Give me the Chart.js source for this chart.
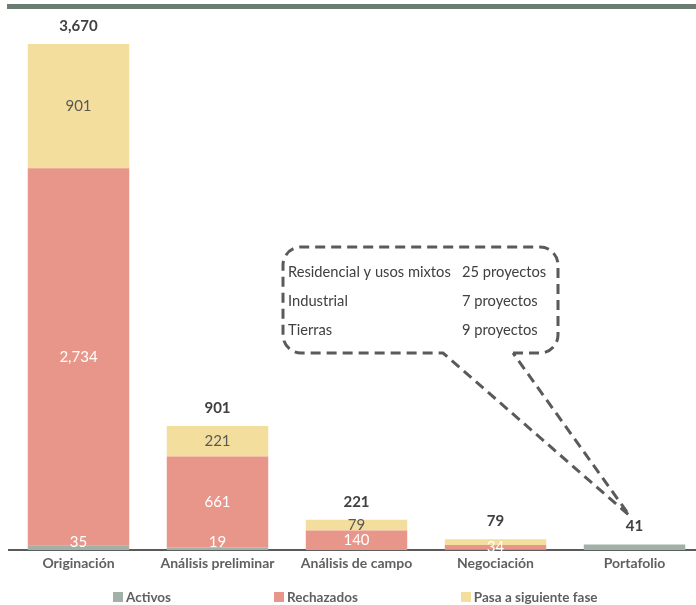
<!DOCTYPE html>
<html>
<head>
<meta charset="utf-8">
<script src="https://cdn.jsdelivr.net/npm/chart.js@4"></script>
<style>
  html, body { margin: 0; padding: 0; background: #fff; overflow: hidden; }
  #wrap { position: relative; width: 704px; height: 605px; }
  #rule { position: absolute; left: 7px; top: 4px; width: 697px; height: 5px; background: #6b7c72; }
  #legend { position: absolute; top: 589px; left: 113px; display: flex; gap: 103px;
            font: bold 13.5px Lato, sans-serif; color: #5f5f5f; }
  #legend .item { display: flex; align-items: center; white-space: nowrap; }
  #legend .box { width: 10px; height: 10px; margin-right: 3px; }
</style>
</head>
<body>
<div id="wrap">
  <canvas id="c" width="704" height="605"></canvas>
  <div id="rule"></div>
  <div id="legend"></div>
</div>
<script>
// Embudo de proyectos por fase
const categories = ['Originación', 'Análisis preliminar', 'Análisis de campo', 'Negociación', 'Portafolio'];
const activos = [35, 19, 2, 4, 41];
const rechazados = [2734, 661, 140, 34, 0];
const pasaSiguiente = [901, 221, 79, 41, 0];

// Which segment values get printed inside the bar
const verActivos = [true, true, false, false, false];
const verRechazados = [true, true, true, true, false];
const verPasa = [true, true, true, false, false];

// Portfolio breakdown shown in the callout
const tiposPortafolio = ['Residencial y usos mixtos', 'Industrial', 'Tierras'];
const proyectosPortafolio = ['25 proyectos', '7 proyectos', '9 proyectos'];

const FONT = 'Lato, sans-serif';
const fmt = v => v.toLocaleString('en-US');

const colores = { activos: '#a1b1a7', rechazados: '#e9968a', pasa: '#f4de9e' };

const segmentLabels = {
  id: 'segmentLabels',
  afterDatasetsDraw(chart) {
    const ctx = chart.ctx;
    const flags = [verActivos, verRechazados, verPasa];
    const base = chart.scales.y.getPixelForValue(0);
    ctx.save();
    ctx.textAlign = 'center';
    ctx.textBaseline = 'middle';
    chart.data.datasets.forEach((ds, di) => {
      const meta = chart.getDatasetMeta(di);
      meta.data.forEach((bar, i) => {
        if (!flags[di][i]) return;
        let y = (bar.y + bar.base) / 2;
        if (di === 0) y = Math.min(y, base - 8);
        ctx.font = '15px ' + FONT;
        ctx.fillStyle = di === 2 ? '#595959' : '#ffffff';
        ctx.fillText(fmt(ds.data[i]), bar.x, y);
      });
    });
    // totals above each stack
    const first = chart.getDatasetMeta(0).data;
    categories.forEach((c, i) => {
      const total = chart.data.datasets.reduce((s, ds) => s + ds.data[i], 0);
      const yTop = chart.scales.y.getPixelForValue(total);
      ctx.font = 'bold 15px ' + FONT;
      ctx.fillStyle = '#404040';
      ctx.fillText(fmt(total), first[i].x, yTop - 18);
    });
    ctx.restore();
  }
};

const callout = {
  id: 'callout',
  afterDraw(chart) {
    const ctx = chart.ctx;
    const i = categories.length - 1;
    const total = chart.data.datasets.reduce((s, ds) => s + ds.data[i], 0);
    const tipX = chart.getDatasetMeta(0).data[i].x - 5;
    const tipY = chart.scales.y.getPixelForValue(total) - 29;
    const L = 283, R = 558, T = 247, B = 353, r = 18;
    const p1 = 443, p2 = 513;
    ctx.save();
    ctx.strokeStyle = '#5a5a5a';
    ctx.lineWidth = 3;
    ctx.setLineDash([10, 6]);
    ctx.beginPath();
    ctx.moveTo(p2, B);
    ctx.lineTo(R - r, B);
    ctx.arcTo(R, B, R, B - r, r);
    ctx.lineTo(R, T + r);
    ctx.arcTo(R, T, R - r, T, r);
    ctx.lineTo(L + r, T);
    ctx.arcTo(L, T, L, T + r, r);
    ctx.lineTo(L, B - r);
    ctx.arcTo(L, B, L + r, B, r);
    ctx.lineTo(p1, B);
    ctx.lineTo(tipX, tipY);
    ctx.lineTo(p2, B);
    ctx.stroke();
    ctx.setLineDash([]);
    ctx.font = '14.7px ' + FONT;
    ctx.fillStyle = '#404040';
    ctx.textBaseline = 'middle';
    ctx.textAlign = 'left';
    tiposPortafolio.forEach((t, k) => {
      const y = T + 25 + k * 29;
      ctx.fillText(t, L + 5, y);
      ctx.fillText(proyectosPortafolio[k], L + 179, y);
    });
    ctx.restore();
  }
};

const chart = new Chart(document.getElementById('c'), {
  type: 'bar',
  data: {
    labels: categories,
    datasets: [
      { label: 'Activos', data: activos, backgroundColor: colores.activos },
      { label: 'Rechazados', data: rechazados, backgroundColor: colores.rechazados },
      { label: 'Pasa a siguiente fase', data: pasaSiguiente, backgroundColor: colores.pasa }
    ]
  },
  options: {
    responsive: false,
    animation: false,
    layout: { padding: { top: 44, left: 9, right: 0, bottom: 28 } },
    datasets: { bar: { barPercentage: 0.73, categoryPercentage: 1 } },
    plugins: { legend: { display: false }, tooltip: { enabled: false } },
    scales: {
      x: {
        stacked: true,
        grid: { display: false, drawTicks: false },
        border: { display: true, color: '#595959', width: 2 },
        ticks: { color: '#606060', font: { family: FONT, size: 14, weight: 'bold' }, padding: 5 }
      },
      y: { stacked: true, display: false, min: 0, max: 3670 }
    }
  },
  plugins: [segmentLabels, callout]
});

// Legend built from the datasets
const legend = document.getElementById('legend');
chart.data.datasets.forEach(ds => {
  const item = document.createElement('div');
  item.className = 'item';
  const box = document.createElement('span');
  box.className = 'box';
  box.style.background = ds.backgroundColor;
  const txt = document.createElement('span');
  txt.textContent = ds.label;
  item.appendChild(box);
  item.appendChild(txt);
  legend.appendChild(item);
});
</script>
</body>
</html>
